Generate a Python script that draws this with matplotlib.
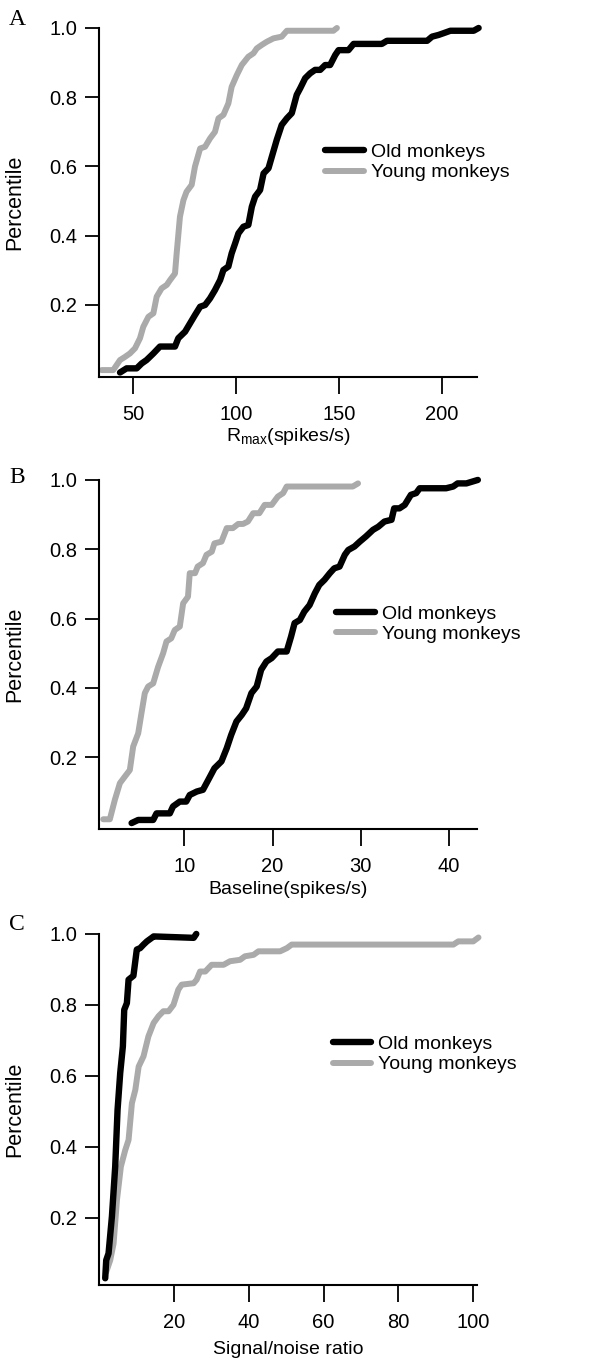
import matplotlib
matplotlib.use("Agg")
import matplotlib.pyplot as plt

plt.rcParams['font.family'] = ['Liberation Sans', 'DejaVu Sans']
plt.rcParams['mathtext.fontset'] = 'custom'
plt.rcParams['mathtext.rm'] = 'Liberation Sans'

BLACK = '#000000'
GREY = '#aaaaaa'

# --- panel A: Rmax (spikes/s) ---
a_young_x = [34.8, 40.4, 43.7, 46.1, 48.5, 51.0, 53.4, 55.0, 57.5, 59.9, 61.5, 63.9, 66.4,
             68.0, 70.4, 71.2, 72.8, 74.5, 76.0, 78.5, 80.1, 82.6, 85.0, 87.4, 89.8, 91.5,
             93.9, 96.3, 97.9, 100.4, 102.8, 106.0, 108.5, 110.1, 112.5, 114.9, 118.2,
             122.2, 124.7, 147.3, 149.0]
a_young_y = [0.012, 0.012, 0.041, 0.05, 0.06, 0.075, 0.104, 0.137, 0.166, 0.176, 0.224,
             0.248, 0.258, 0.272, 0.291, 0.349, 0.455, 0.503, 0.527, 0.547, 0.6, 0.652,
             0.657, 0.681, 0.7, 0.739, 0.749, 0.782, 0.83, 0.864, 0.893, 0.917, 0.927,
             0.941, 0.951, 0.96, 0.97, 0.975, 0.992, 0.992, 1.0]
a_old_x = [43.7, 46.9, 51.8, 54.2, 56.6, 59.9, 63.1, 70.4, 72.0, 75.3, 77.7, 80.1, 82.6,
           85.0, 87.4, 89.8, 92.3, 93.9, 96.3, 97.9, 99.6, 101.2, 103.6, 106.0, 107.7,
           109.3, 111.7, 113.4, 115.8, 117.4, 119.8, 122.2, 124.7, 127.1, 129.5, 131.2,
           133.6, 136.0, 138.4, 140.9, 143.3, 145.7, 148.2, 149.8, 154.6, 157.1, 170.8,
           173.3, 192.8, 195.2, 198.4, 200.8, 204.1, 215.4, 217.8]
a_old_y = [0.005, 0.017, 0.017, 0.031, 0.041, 0.06, 0.08, 0.08, 0.104, 0.123, 0.147, 0.171,
           0.195, 0.2, 0.219, 0.243, 0.272, 0.301, 0.311, 0.349, 0.378, 0.407, 0.426, 0.431,
           0.484, 0.513, 0.532, 0.58, 0.595, 0.628, 0.677, 0.72, 0.739, 0.754, 0.807, 0.826,
           0.855, 0.869, 0.879, 0.879, 0.893, 0.893, 0.922, 0.936, 0.936, 0.954, 0.954,
           0.963, 0.963, 0.975, 0.98, 0.985, 0.992, 0.992, 1.0]

# --- panel B: baseline (spikes/s) ---
b_young_x = [0.78, 1.53, 2.1, 2.67, 3.23, 3.8, 4.18, 4.75, 5.12, 5.5, 5.88, 6.45, 7.0, 7.58,
             7.96, 8.5, 8.9, 9.47, 9.85, 10.4, 10.6, 11.2, 11.5, 12.1, 12.5, 13.1, 13.4,
             14.2, 14.8, 15.5, 16.1, 16.65, 17.2, 17.8, 18.5, 19.1, 19.9, 20.6, 21.2, 21.6,
             29.1, 29.7]
b_young_y = [0.021, 0.021, 0.077, 0.125, 0.144, 0.163, 0.231, 0.269, 0.327, 0.385, 0.404,
             0.413, 0.46, 0.5, 0.534, 0.543, 0.567, 0.577, 0.644, 0.663, 0.731, 0.731, 0.75,
             0.76, 0.784, 0.793, 0.817, 0.822, 0.861, 0.861, 0.873, 0.873, 0.88, 0.904,
             0.904, 0.928, 0.928, 0.952, 0.962, 0.981, 0.981, 0.99]
b_old_x = [4.0, 4.75, 6.45, 6.83, 8.34, 8.7, 9.47, 10.2, 10.6, 11.4, 12.1, 12.9, 13.4, 14.2,
           14.8, 15.3, 15.9, 16.5, 17.0, 17.6, 18.2, 18.7, 19.3, 19.9, 20.6, 21.6, 22.1,
           22.5, 23.1, 23.6, 24.2, 24.8, 25.3, 25.9, 26.5, 27.0, 27.6, 28.2, 28.6, 29.3,
           29.9, 30.6, 31.4, 32.0, 32.7, 33.5, 33.8, 34.4, 35.0, 35.7, 36.3, 36.7, 39.7,
           40.5, 41.0, 42.0, 43.3]
b_old_y = [0.01, 0.019, 0.019, 0.038, 0.038, 0.058, 0.072, 0.072, 0.091, 0.101, 0.106,
           0.144, 0.168, 0.188, 0.226, 0.264, 0.303, 0.322, 0.341, 0.385, 0.404, 0.452,
           0.476, 0.486, 0.505, 0.505, 0.548, 0.587, 0.596, 0.62, 0.639, 0.673, 0.697,
           0.712, 0.731, 0.745, 0.75, 0.784, 0.798, 0.808, 0.822, 0.837, 0.856, 0.865,
           0.88, 0.885, 0.918, 0.918, 0.928, 0.957, 0.962, 0.976, 0.976, 0.981, 0.99,
           0.99, 1.0]

# --- panel C: signal/noise ratio ---
c_old_x = [1.66, 1.93, 2.55, 3.45, 4.33, 4.96, 5.67, 6.38, 6.74, 7.45, 7.9, 9.2, 10.1, 11.0,
           11.9, 12.8, 14.1, 14.6, 25.3, 26.0]
c_old_y = [0.029, 0.08, 0.099, 0.203, 0.344, 0.504, 0.608, 0.683, 0.786, 0.805, 0.871,
           0.882, 0.956, 0.96, 0.97, 0.979, 0.989, 0.993, 0.989, 1.0]
c_young_x = [1.93, 3.0, 3.9, 4.8, 5.85, 7.0, 7.9, 8.8, 9.7, 10.6, 11.9, 13.2, 14.6, 15.9,
             17.2, 18.6, 19.9, 21.2, 22.1, 25.3, 26.1, 27.0, 28.4, 30.1, 33.3, 35.0, 37.7,
             39.0, 41.3, 42.6, 48.4, 50.2, 51.5, 94.7, 96.0, 100.0, 101.4]
c_young_y = [0.047, 0.08, 0.127, 0.25, 0.344, 0.39, 0.419, 0.523, 0.56, 0.626, 0.655,
             0.711, 0.749, 0.768, 0.782, 0.782, 0.8, 0.843, 0.857, 0.861, 0.871, 0.894,
             0.894, 0.913, 0.913, 0.923, 0.927, 0.937, 0.941, 0.951, 0.951, 0.96, 0.97,
             0.97, 0.979, 0.979, 0.99]

panels = [
    dict(letter='A', old=(a_old_x, a_old_y), young=(a_young_x, a_young_y),
         xlim=(33.5, 217), ylim=(-0.008, 1.0), xticks=[50, 100, 150, 200],
         xlabel='R$_\\mathregular{max}$(spikes/s)', rect=[0.1661, 0.7238, 0.6342, 0.2557],
         leg=(0.598, 0.615), xlab_y=-0.14, let_y=0.986),
    dict(letter='B', old=(b_old_x, b_old_y), young=(b_young_x, b_young_y),
         xlim=(0.3, 43.2), ylim=(-0.007, 1.0), xticks=[10, 20, 30, 40],
         xlabel='Baseline(spikes/s)', rect=[0.1661, 0.3927, 0.6342, 0.2557],
         leg=(0.627, 0.587), xlab_y=-0.15, let_y=0.650),
    dict(letter='C', old=(c_old_x, c_old_y), young=(c_young_x, c_young_y),
         xlim=(0.0, 101), ylim=(0.01, 1.0), xticks=[20, 40, 60, 80, 100],
         xlabel='Signal/noise ratio', rect=[0.1661, 0.0586, 0.6342, 0.2572],
         leg=(0.618, 0.657), xlab_y=-0.16, let_y=0.3224),
]

fig = plt.figure(figsize=(5.96, 13.65), dpi=100)

for p in panels:
    ax = fig.add_axes(p['rect'])
    ax.plot(p['old'][0], p['old'][1], color=BLACK, lw=4.6, solid_capstyle='round',
            solid_joinstyle='round', label='Old monkeys', clip_on=False, zorder=3)
    ax.plot(p['young'][0], p['young'][1], color=GREY, lw=4.3, solid_capstyle='round',
            solid_joinstyle='round', label='Young monkeys', clip_on=False, zorder=2)
    ax.set_xlim(*p['xlim'])
    ax.set_ylim(*p['ylim'])
    ax.set_xticks(p['xticks'])
    ax.set_yticks([0.2, 0.4, 0.6, 0.8, 1.0])
    ax.set_yticklabels(['0.2', '0.4', '0.6', '0.8', '1.0'])
    for s in ('top', 'right'):
        ax.spines[s].set_visible(False)
    for s in ('left', 'bottom'):
        ax.spines[s].set_linewidth(1.5)
    ax.tick_params(axis='x', length=12, width=1.3, pad=8, labelsize=14.5, direction='out')
    ax.tick_params(axis='y', length=10, width=1.3, pad=5.5, labelsize=14.5, direction='out')
    ax.set_ylabel('Percentile', fontsize=15.5)
    ax.yaxis.set_label_coords(-0.196, 0.5)
    ax.set_xlabel(p['xlabel'], fontsize=14)
    ax.xaxis.set_label_coords(0.5, p['xlab_y'])
    ax.legend(loc='center left', bbox_to_anchor=p['leg'], frameon=False, fontsize=14,
              handlelength=2.0, handletextpad=0.35, labelspacing=0.15,
              borderpad=0, borderaxespad=0)
    fig.text(0.029, p['let_y'], p['letter'], family='Liberation Serif', fontsize=17,
             ha='center', va='center')

fig.savefig('out.png', dpi=100)
